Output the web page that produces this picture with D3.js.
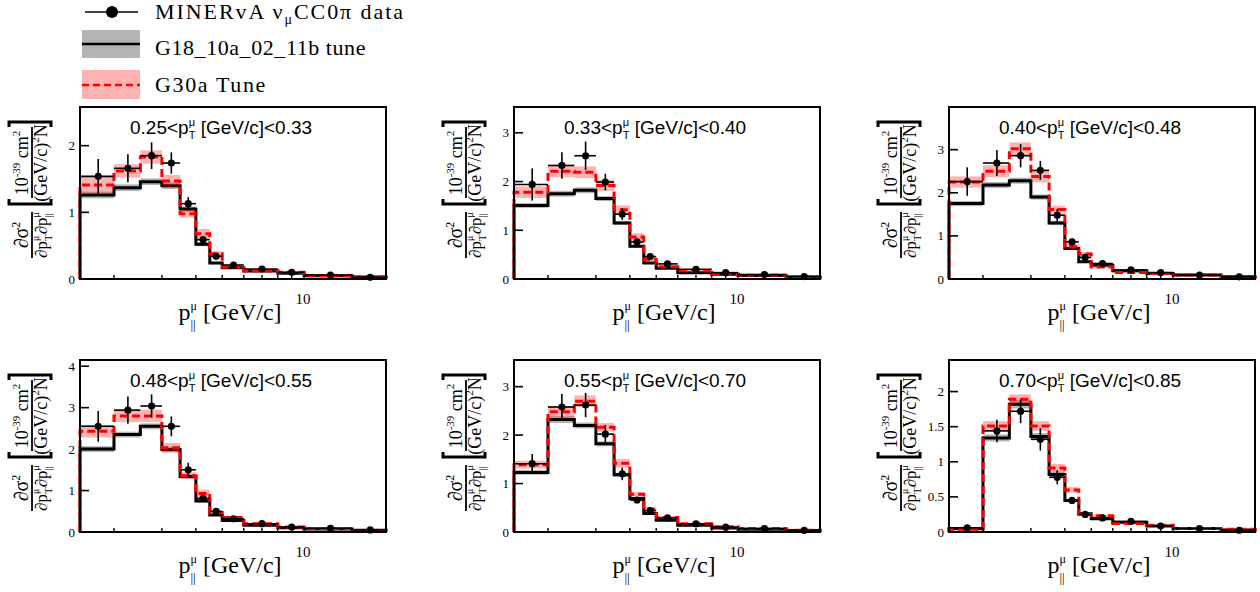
<!DOCTYPE html>
<html><head><meta charset="utf-8">
<script src="https://cdn.jsdelivr.net/npm/d3@7"></script>
<style>body{margin:0;background:#fff} text{white-space:pre}</style>
</head><body>
<svg id="c" width="1260" height="592"></svg>
<script>
// ---------------- DATA ----------------
const binEdges = [1.5,2,2.5,3,3.5,4,4.5,5,6,8,10,15,20];
const ptLow  = ["0.25","0.33","0.40","0.48","0.55","0.70"];
const ptHigh = ["0.33","0.40","0.48","0.55","0.70","0.85"];
const yMax   = [2.58, 3.53, 3.99, 4.15, 3.55, 2.45];
const yTicks = [[0,1,2],[0,1,2,3],[0,1,2,3],[0,1,2,3,4],[0,1,2,3],[0,0.5,1,1.5,2]];
const xTickValues = [2,3,4,5,6,7,8,9,10];
const xTickLabels = ["10"];

const dataVals = [
 [1.54,1.66,1.85,1.74,1.13,0.59,0.34,0.21,0.15,0.10,0.06,0.025],
 [1.94,2.33,2.53,1.99,1.33,0.76,0.46,0.31,0.20,0.13,0.09,0.05],
 [2.26,2.69,2.86,2.52,1.48,0.86,0.50,0.36,0.21,0.15,0.09,0.05],
 [2.55,2.94,3.04,2.55,1.50,0.81,0.50,0.32,0.20,0.12,0.09,0.05],
 [1.41,2.58,2.62,2.02,1.20,0.66,0.44,0.29,0.17,0.10,0.07,0.035],
 [0.06,1.44,1.72,1.32,0.78,0.45,0.25,0.20,0.15,0.085,0.05,0.025]
];
const dataErrs = [
 [0.26,0.21,0.20,0.16,0.10,0.05,0.03,0.02,0.015,0.01,0.008,0.005],
 [0.33,0.27,0.29,0.17,0.12,0.07,0.04,0.03,0.02,0.015,0.01,0.006],
 [0.33,0.30,0.27,0.22,0.15,0.08,0.05,0.03,0.02,0.015,0.01,0.006],
 [0.37,0.33,0.28,0.24,0.17,0.08,0.05,0.03,0.02,0.015,0.01,0.006],
 [0.20,0.27,0.25,0.19,0.13,0.06,0.04,0.03,0.02,0.015,0.01,0.006],
 [0.01,0.16,0.17,0.16,0.10,0.04,0.025,0.02,0.015,0.01,0.008,0.005]
];
const g18Vals = [
 [1.26,1.37,1.46,1.40,1.05,0.52,0.24,0.17,0.12,0.085,0.05,0.03],
 [1.51,1.75,1.82,1.65,1.15,0.67,0.33,0.22,0.13,0.10,0.07,0.04],
 [1.75,2.18,2.28,1.90,1.30,0.71,0.40,0.32,0.19,0.13,0.09,0.05],
 [2.00,2.35,2.55,1.99,1.34,0.75,0.41,0.28,0.16,0.10,0.07,0.04],
 [1.23,2.32,2.20,1.82,1.18,0.69,0.38,0.24,0.14,0.08,0.055,0.03],
 [0.045,1.34,1.82,1.36,0.82,0.45,0.26,0.19,0.14,0.085,0.05,0.03]
];
const g18Errs = [
 [0.05,0.05,0.05,0.05,0.04,0.03,0.02,0.015,0.01,0.008,0.005,0.004],
 [0.05,0.06,0.06,0.05,0.04,0.03,0.02,0.015,0.01,0.008,0.006,0.004],
 [0.06,0.07,0.07,0.06,0.05,0.03,0.02,0.015,0.01,0.008,0.006,0.004],
 [0.07,0.07,0.07,0.06,0.05,0.04,0.02,0.015,0.01,0.008,0.006,0.004],
 [0.05,0.07,0.06,0.05,0.04,0.03,0.02,0.015,0.01,0.008,0.006,0.004],
 [0.01,0.05,0.06,0.05,0.04,0.02,0.015,0.01,0.008,0.006,0.004,0.003]
];
const g30Vals = [
 [1.41,1.62,1.83,1.47,0.98,0.68,0.38,0.18,0.12,0.10,0.05,0.03],
 [1.78,2.21,2.19,1.92,1.42,0.86,0.40,0.25,0.17,0.10,0.075,0.04],
 [2.25,2.50,3.02,2.38,1.61,0.75,0.58,0.28,0.15,0.13,0.09,0.04],
 [2.43,2.80,2.80,2.03,1.36,0.93,0.47,0.35,0.20,0.12,0.08,0.035],
 [1.39,2.48,2.70,2.16,1.42,0.78,0.47,0.30,0.17,0.11,0.07,0.035],
 [0.04,1.51,1.89,1.51,0.91,0.60,0.25,0.23,0.12,0.095,0.05,0.04]
];
const g30Errs = [
 [0.12,0.10,0.10,0.09,0.06,0.07,0.04,0.02,0.012,0.01,0.008,0.005],
 [0.12,0.12,0.12,0.11,0.09,0.08,0.04,0.02,0.015,0.01,0.008,0.005],
 [0.13,0.14,0.15,0.14,0.09,0.06,0.05,0.03,0.015,0.01,0.008,0.005],
 [0.15,0.15,0.15,0.12,0.08,0.09,0.04,0.03,0.015,0.01,0.008,0.005],
 [0.08,0.12,0.12,0.09,0.09,0.05,0.04,0.03,0.015,0.01,0.008,0.005],
 [0.01,0.07,0.07,0.07,0.06,0.04,0.02,0.015,0.01,0.008,0.006,0.004]
];
const legendLabels = ["MINERvA ν", "G18_10a_02_11b tune", "G30a Tune"];

// ---------------- LAYOUT ----------------
const colLeft = [80, 514, 949];
const rowTop = [107, 360];
const PW = 306, PH = 172;
const SERIF = "'Liberation Serif','DejaVu Serif',serif";
const SANS = "'Liberation Sans',Arial,Helvetica,sans-serif";
const PINK = "rgba(255,0,0,0.3)";
const GRAY = "#b3b3b3";

const svg = d3.select("#c");

function layoutRich(g, segs, family, ls) {
  g.selectAll("*").remove();
  let cx = 0, lastStart = 0;
  segs.forEach(s => {
    const start = s.stack ? lastStart : cx;
    const t = g.append("text").attr("x", start).attr("y", s.dy || 0)
      .attr("font-size", s.size).attr("font-family", family).attr("fill", "#000")
      .style("letter-spacing", ls + "px").text(s.t);
    const w = t.node().getComputedTextLength();
    const end = start + w;
    cx = s.stack ? Math.max(cx, end) : end;
    lastStart = start;
  });
  return cx;
}
function rich(parent, segs, x, y, anchor, family, targetW) {
  const g = parent.append("g");
  let w = layoutRich(g, segs, family, 0);
  if (targetW) {
    const n = segs.reduce((a, s) => a + (s.stack ? 0 : s.t.length), 0);
    w = layoutRich(g, segs, family, (targetW - w) / n);
  }
  const off = anchor === "middle" ? -w / 2 : 0;
  g.attr("transform", `translate(${x + off},${y})`);
  return g;
}

function yTitle(cx, cy) {
  const g = svg.append("g").attr("transform", `translate(${cx},${cy}) rotate(-90)`);
  // main fraction
  g.append("line").attr("x1", -65).attr("x2", -19).attr("y1", 0).attr("y2", 0).attr("stroke", "#000").attr("stroke-width", 1.8);
  rich(g, [{t:"∂σ", size:20},{t:"2", size:12, dy:-8}], -42, -4, "middle", SERIF);
  rich(g, [{t:"∂p", size:17},{t:"μ", size:10, dy:-8},{t:"T", size:11, dy:5, stack:true},
           {t:"∂p", size:17},{t:"μ", size:10, dy:-8},{t:"||", size:11, dy:5, stack:true}], -42, 15, "middle", SERIF);
  // bracket fraction
  g.append("line").attr("x1", -5).attr("x2", 66).attr("y1", 0).attr("y2", 0).attr("stroke", "#000").attr("stroke-width", 1.8);
  rich(g, [{t:"10", size:18},{t:"-39", size:11, dy:-8},{t:" cm", size:18},{t:"2", size:11, dy:-8}], 30, -4, "middle", SERIF);
  rich(g, [{t:"(GeV/c)", size:18},{t:"2", size:11, dy:-8},{t:"N", size:18}], 30, 15, "middle", SERIF);
  g.append("path").attr("d", "M -6 -23 L -11 -23 L -11 19 L -6 19").attr("fill", "none").attr("stroke", "#000").attr("stroke-width", 3);
  g.append("path").attr("d", "M 66 -23 L 71 -23 L 71 19 L 66 19").attr("fill", "none").attr("stroke", "#000").attr("stroke-width", 3);
}

for (let p = 0; p < 6; p++) {
  const left = colLeft[p % 3], top = rowTop[Math.floor(p / 3)];
  const bottom = top + PH, right = left + PW;
  const x = d3.scaleLog().domain([binEdges[0], binEdges[binEdges.length - 1]]).range([left, right]);
  const y = d3.scaleLinear().domain([0, yMax[p]]).range([bottom, top]);
  const bins = d3.range(binEdges.length - 1);
  const gp = svg.append("g");

  // G18 band
  gp.selectAll(".b18").data(bins).join("rect")
    .attr("x", i => x(binEdges[i])).attr("width", i => x(binEdges[i+1]) - x(binEdges[i]))
    .attr("y", i => y(g18Vals[p][i] + g18Errs[p][i]))
    .attr("height", i => y(g18Vals[p][i] - g18Errs[p][i]) - y(g18Vals[p][i] + g18Errs[p][i]))
    .attr("fill", GRAY);
  const stepPath = vals => {
    let d = `M${x(binEdges[0])},${y(0)}`;
    bins.forEach(i => { d += `V${y(vals[i])}H${x(binEdges[i+1])}`; });
    d += `V${y(0)}`;
    return d;
  };
  gp.append("path").attr("d", stepPath(g18Vals[p])).attr("fill", "none").attr("stroke", "#000").attr("stroke-width", 3);
  // G30 band
  gp.selectAll(".b30").data(bins).join("rect")
    .attr("x", i => x(binEdges[i])).attr("width", i => x(binEdges[i+1]) - x(binEdges[i]))
    .attr("y", i => y(g30Vals[p][i] + g30Errs[p][i]))
    .attr("height", i => y(g30Vals[p][i] - g30Errs[p][i]) - y(g30Vals[p][i] + g30Errs[p][i]))
    .attr("fill", PINK);
  gp.append("path").attr("d", stepPath(g30Vals[p])).attr("fill", "none").attr("stroke", "#ff0000")
    .attr("stroke-width", 3).attr("stroke-dasharray", "8,4");
  // data
  bins.forEach(i => {
    const xc = x((binEdges[i] + binEdges[i+1]) / 2);
    const v = dataVals[p][i], e = dataErrs[p][i];
    gp.append("line").attr("x1", xc).attr("x2", xc).attr("y1", y(v - e)).attr("y2", y(v + e)).attr("stroke", "#000").attr("stroke-width", 1.6);
    gp.append("line").attr("x1", x(binEdges[i])).attr("x2", x(binEdges[i+1])).attr("y1", y(v)).attr("y2", y(v)).attr("stroke", "#000").attr("stroke-width", 1.6);
    gp.append("circle").attr("cx", xc).attr("cy", y(v)).attr("r", 3.6).attr("fill", "#000");
  });

  // frame
  gp.append("rect").attr("x", left).attr("y", top).attr("width", PW).attr("height", PH)
    .attr("fill", "none").attr("stroke", "#000").attr("stroke-width", 2);
  // y ticks
  yTicks[p].forEach(t => {
    gp.append("line").attr("x1", left).attr("x2", left + 9).attr("y1", y(t)).attr("y2", y(t)).attr("stroke", "#000").attr("stroke-width", 1.6);
    gp.append("text").attr("x", left - 5).attr("y", y(t)).attr("dy", "0.35em").attr("text-anchor", "end")
      .attr("font-family", SERIF).attr("font-size", 13).text(String(t));
  });
  // x ticks
  xTickValues.forEach(t => {
    gp.append("line").attr("x1", x(t)).attr("x2", x(t)).attr("y1", bottom).attr("y2", bottom - 4).attr("stroke", "#000").attr("stroke-width", 1.4);
  });
  xTickLabels.forEach(l => {
    gp.append("text").attr("x", x(+l) - 1).attr("y", bottom + 25).attr("text-anchor", "middle")
      .attr("font-family", SERIF).attr("font-size", 15).text(l);
  });
  // x title
  rich(svg, [{t:"p", size:24},{t:"μ", size:12, dy:-10},{t:"||", size:13, dy:9, stack:true},{t:" [GeV/c]", size:24}],
       left + PW / 2 - 3, bottom + 41, "middle", SERIF);
  // panel title
  rich(svg, [{t:ptLow[p] + "<p", size:19},{t:"μ", size:11, dy:-8},{t:"T", size:11, dy:5, stack:true},
             {t:" [GeV/c]<" + ptHigh[p], size:19}], left + 50, top + 27, "start", SANS);
  // y title
  yTitle(left - 48, top + 86);
}

// ---------------- LEGEND ----------------
const lg = svg.append("g");
lg.append("line").attr("x1", 85).attr("x2", 138).attr("y1", 12).attr("y2", 12).attr("stroke", "#000").attr("stroke-width", 1.6);
lg.append("circle").attr("cx", 112).attr("cy", 12).attr("r", 6).attr("fill", "#000");
rich(lg, [{t:legendLabels[0], size:22},{t:"μ", size:14, dy:5},{t:"CC0π data", size:22}], 155, 19, "start", SERIF, 250);
lg.append("rect").attr("x", 82).attr("y", 30).attr("width", 58).attr("height", 28).attr("fill", GRAY);
lg.append("line").attr("x1", 82).attr("x2", 140).attr("y1", 44).attr("y2", 44).attr("stroke", "#000").attr("stroke-width", 2.5);
rich(lg, [{t:legendLabels[1], size:22}], 155, 55, "start", SERIF, 211);
lg.append("rect").attr("x", 82).attr("y", 70).attr("width", 58).attr("height", 29).attr("fill", PINK);
lg.append("line").attr("x1", 82).attr("x2", 140).attr("y1", 85).attr("y2", 85).attr("stroke", "#ff0000").attr("stroke-width", 2.5).attr("stroke-dasharray", "7,4");
rich(lg, [{t:legendLabels[2], size:22}], 155, 92, "start", SERIF, 112);
</script>
</body></html>
